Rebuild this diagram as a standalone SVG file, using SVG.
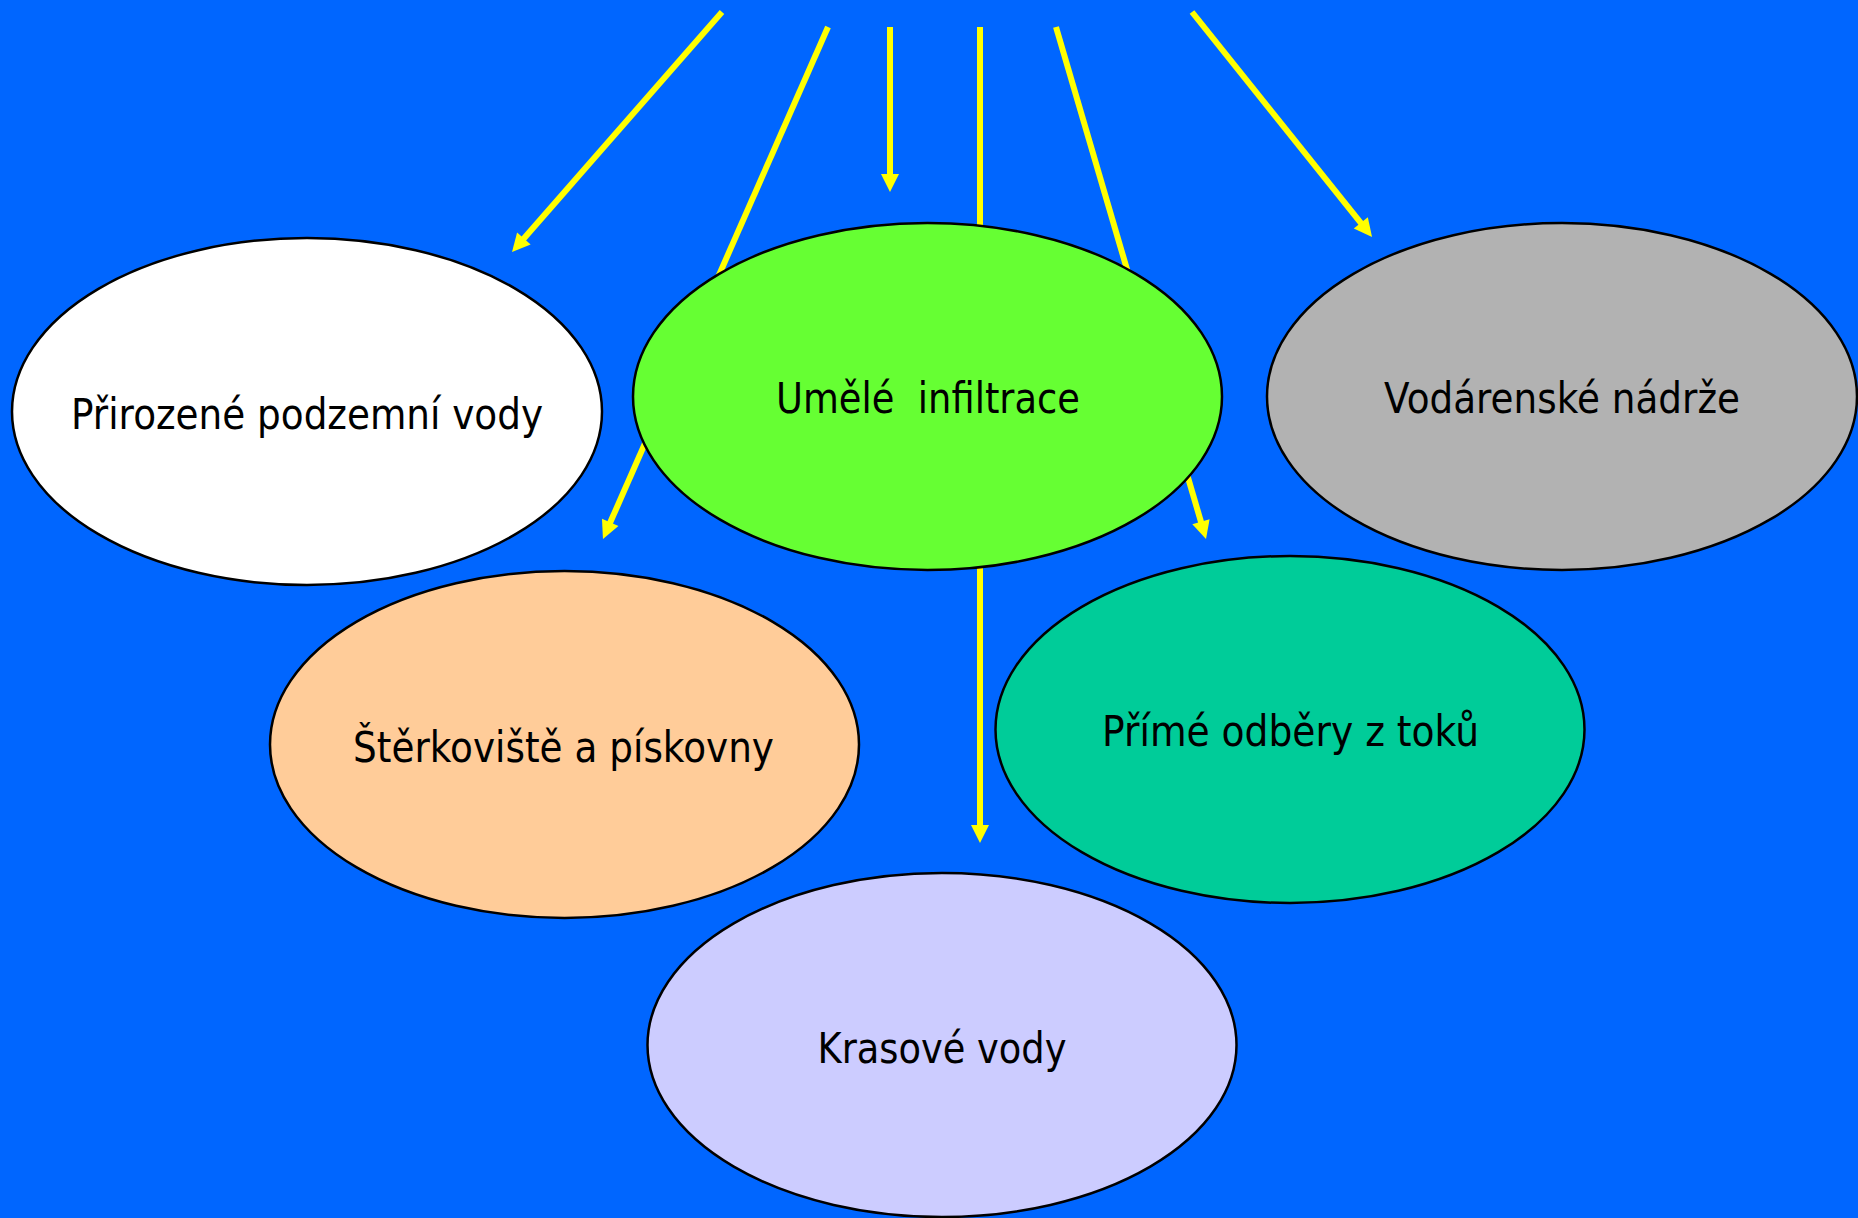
<svg xmlns="http://www.w3.org/2000/svg" width="1858" height="1218" viewBox="0 0 1858 1218">
<style>
.node ellipse{stroke:#000;stroke-width:2.5}
.lbl{font-family:"DejaVu Sans","Noto Sans",sans-serif;font-size:42px;fill:#000;text-anchor:middle}
.con line{stroke:#FFFF00;stroke-width:6;fill:none}
</style>
<defs>
<marker id="ah" markerUnits="userSpaceOnUse" markerWidth="18" markerHeight="18" refX="8" refY="9" orient="auto" overflow="visible">
<path d="M0,0 L18,9 L0,18 Z" fill="#FFFF00"/>
</marker>
</defs>
<rect x="0" y="0" width="1858" height="1218" fill="#0066FF"/>
<g id="connectors" class="con">
<line x1="722" y1="12" x2="518.6" y2="244.5" marker-end="url(#ah)"/>
<line x1="828" y1="27" x2="607" y2="529.8" marker-end="url(#ah)"/>
<line x1="890" y1="27" x2="890" y2="182" marker-end="url(#ah)"/>
<line x1="980" y1="27" x2="980" y2="833" marker-end="url(#ah)"/>
<line x1="1056" y1="27" x2="1203.2" y2="529.4" marker-end="url(#ah)"/>
<line x1="1192" y1="12" x2="1365.8" y2="229.2" marker-end="url(#ah)"/>
</g>
<g id="node-prirozene" class="node">
<ellipse cx="307" cy="411.5" rx="295" ry="173.5" fill="#FFFFFF"/>
<text class="lbl" x="307" y="428.5" textLength="472" lengthAdjust="spacingAndGlyphs">Přirozené podzemní vody</text>
</g>
<g id="node-umele" class="node">
<ellipse cx="927.5" cy="396.5" rx="294.5" ry="173.5" fill="#66FF33"/>
<text class="lbl" x="928" y="413" textLength="304" lengthAdjust="spacingAndGlyphs" xml:space="preserve">Umělé  infiltrace</text>
</g>
<g id="node-vodarenske" class="node">
<ellipse cx="1562" cy="396.5" rx="295" ry="173.5" fill="#B2B2B2"/>
<text class="lbl" x="1562" y="413" textLength="356" lengthAdjust="spacingAndGlyphs">Vodárenské nádrže</text>
</g>
<g id="node-sterkoviste" class="node">
<ellipse cx="564.5" cy="744.5" rx="294.5" ry="173.5" fill="#FFCC99"/>
<text class="lbl" x="563.5" y="762" textLength="421" lengthAdjust="spacingAndGlyphs">Štěrkoviště a pískovny</text>
</g>
<g id="node-prime" class="node">
<ellipse cx="1290" cy="729.5" rx="294.5" ry="173.5" fill="#00CC99"/>
<text class="lbl" x="1290.5" y="746" textLength="377" lengthAdjust="spacingAndGlyphs">Přímé odběry z toků</text>
</g>
<g id="node-krasove" class="node">
<ellipse cx="942" cy="1045" rx="294.5" ry="172" fill="#CCCCFF"/>
<text class="lbl" x="942" y="1063" textLength="249" lengthAdjust="spacingAndGlyphs">Krasové vody</text>
</g>
</svg>
